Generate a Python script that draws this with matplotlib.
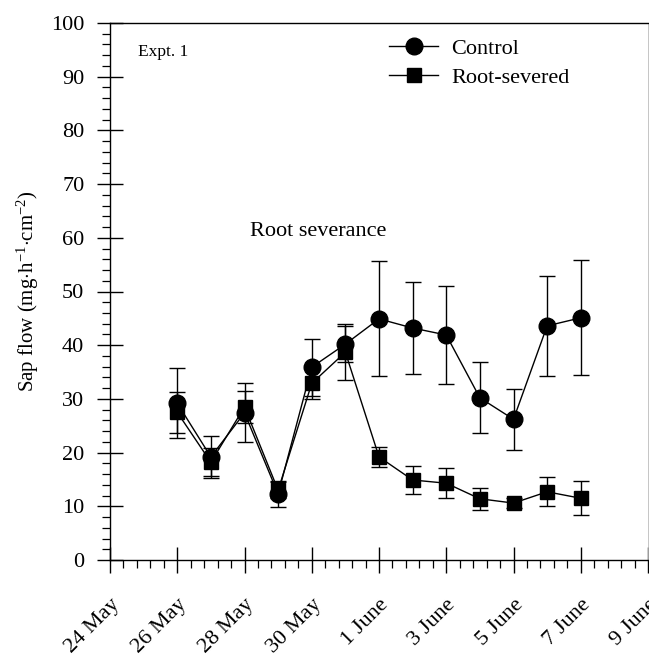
import datetime as dt
import matplotlib
matplotlib.use("Agg")
import matplotlib.pyplot as plt
from matplotlib.lines import Line2D
from matplotlib.ticker import AutoMinorLocator, MultipleLocator

plt.rcParams['font.family'] = ['Liberation Serif', 'DejaVu Serif']
plt.rcParams['mathtext.fontset'] = 'custom'
plt.rcParams['mathtext.rm'] = 'Liberation Serif'
plt.rcParams['mathtext.it'] = 'Liberation Serif:italic'

# ---- data ----
dates = ["1996-05-26", "1996-05-27", "1996-05-28", "1996-05-29", "1996-05-30",
         "1996-05-31", "1996-06-01", "1996-06-02", "1996-06-03", "1996-06-04",
         "1996-06-05", "1996-06-06", "1996-06-07"]
control = [29.2, 19.2, 27.4, 12.3, 35.9, 40.2, 44.9, 43.2, 41.9, 30.2, 26.2, 43.6, 45.1]
control_err = [6.5, 3.9, 5.5, 2.4, 5.3, 3.4, 10.7, 8.5, 9.2, 6.6, 5.7, 9.3, 10.7]
severed = [27.5, 18.2, 28.5, 13.0, 32.9, 38.7, 19.2, 14.9, 14.3, 11.4, 10.6, 12.7, 11.5]
severed_err = [3.8, 2.6, 3.0, 1.5, 3.0, 5.2, 1.8, 2.6, 2.8, 2.1, 1.0, 2.7, 3.2]

tick_dates = ["1996-05-24", "1996-05-26", "1996-05-28", "1996-05-30", "1996-06-01",
              "1996-06-03", "1996-06-05", "1996-06-07", "1996-06-09"]
tick_labels = ["24 May", "26 May", "28 May", "30 May", "1 June",
               "3 June", "5 June", "7 June", "9 June"]

x = [dt.datetime.strptime(d, "%Y-%m-%d") for d in dates]
xt = [dt.datetime.strptime(d, "%Y-%m-%d") for d in tick_dates]

fig = plt.figure(figsize=(6.49, 6.60), dpi=100)
ax = fig.add_axes([110/649, 100/660, 538/649, 537/660])

ax.errorbar(x, control, yerr=control_err, fmt='-o', color='black', mfc='black',
            mec='black', ms=12, lw=1.0, elinewidth=1.0, capsize=5.5, capthick=1.0,
            zorder=3)
ax.errorbar(x, severed, yerr=severed_err, fmt='-s', color='black', mfc='black',
            mec='black', ms=10.5, lw=1.0, elinewidth=1.0, capsize=5.5, capthick=1.0,
            zorder=3)

ax.set_xlim(xt[0], xt[-1])
ax.set_ylim(0, 100)
ax.set_xticks(xt)
ax.set_xticklabels(tick_labels, rotation=45, ha='right', rotation_mode='anchor',
                   fontsize=16)
ax.xaxis.set_minor_locator(AutoMinorLocator(5))
ax.yaxis.set_major_locator(MultipleLocator(10))
ax.yaxis.set_minor_locator(MultipleLocator(2))
ax.tick_params(axis='both', which='major', direction='inout', length=19, width=1.0,
               labelsize=16)
ax.tick_params(axis='x', which='major', pad=16)
ax.tick_params(axis='y', which='major', pad=9)
ax.tick_params(axis='both', which='minor', direction='out', length=6, width=0.9)

for s in ['left', 'bottom', 'top']:
    ax.spines[s].set_linewidth(1.0)
ax.spines['right'].set_color('#bbbbbb')
ax.spines['right'].set_linewidth(0.6)

ax.set_ylabel(r'Sap flow (mg$\cdot$h$^{-1}$$\cdot$cm$^{-2}$)', fontsize=15)
ax.yaxis.set_label_coords(-0.128, 0.5)

ax.text(0.052, 0.946, 'Expt. 1', transform=ax.transAxes, fontsize=12.5,
        va='center', ha='left')
ax.text(0.26, 0.611, 'Root severance', transform=ax.transAxes, fontsize=16,
        va='center', ha='left')

handles = [Line2D([], [], color='black', marker='o', ms=12, lw=1.0),
           Line2D([], [], color='black', marker='s', ms=10.5, lw=1.0)]
ax.legend(handles, ['Control', 'Root-severed'], loc='upper left',
          bbox_to_anchor=(0.49, 1.0), frameon=False, fontsize=16,
          handlelength=2.2, handletextpad=0.6, labelspacing=0.38,
          borderaxespad=0.3)

fig.savefig('out.png', dpi=100)
